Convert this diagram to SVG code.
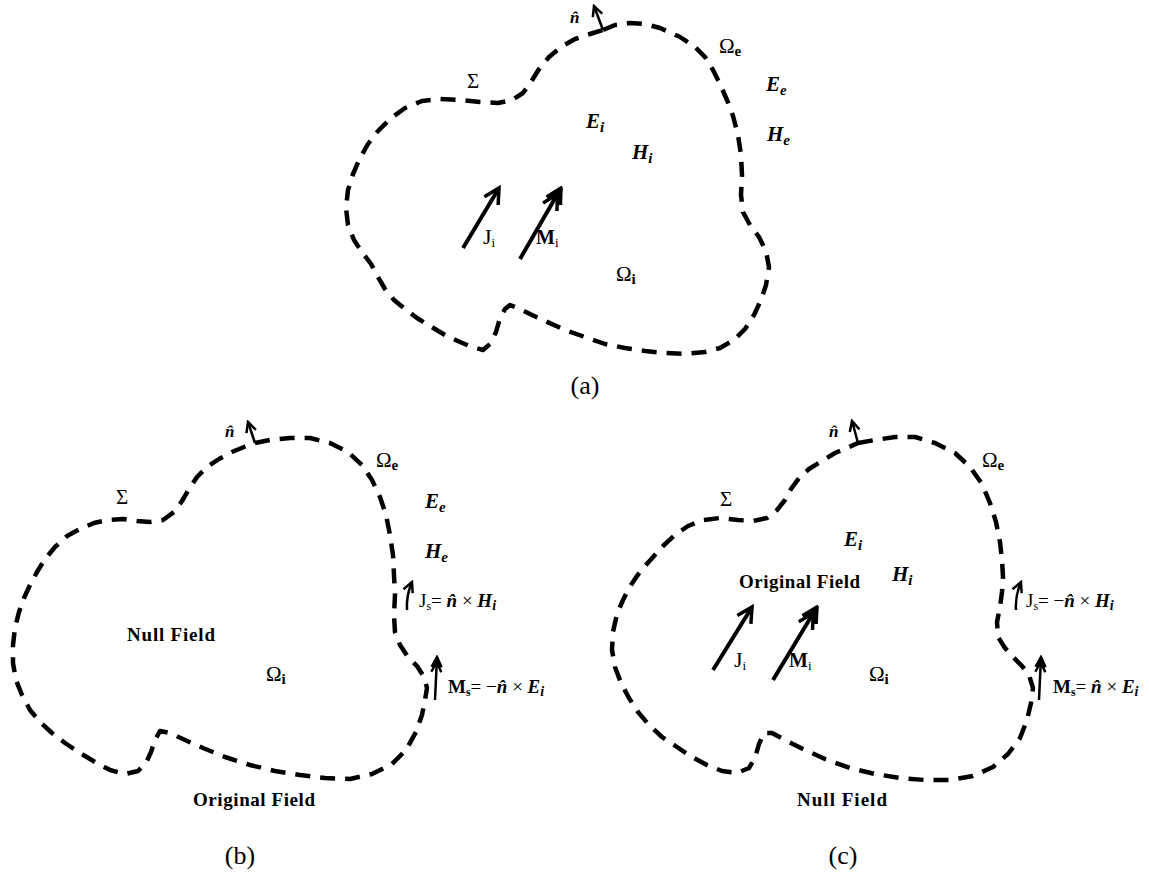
<svg xmlns="http://www.w3.org/2000/svg" width="1149" height="873" viewBox="0 0 1149 873">
<style>
.b{fill:none;stroke:#000;stroke-width:4.5;stroke-dasharray:15 10;stroke-linejoin:round}
.ar{fill:none;stroke:#000;stroke-width:4}
.tn{fill:none;stroke:#000;stroke-width:2.5}
text{font-family:"Liberation Serif","DejaVu Serif",serif;fill:#000}
.bi{font-weight:bold;font-style:italic}
.bd{font-weight:bold}
</style>
<defs>
<marker id="ah" markerUnits="userSpaceOnUse" viewBox="0 0 22 22" refX="19" refY="11" markerWidth="22" markerHeight="22" orient="auto"><path d="M4,3 L19,11 L4,19" fill="none" stroke="#000" stroke-width="3.5"/></marker>
<marker id="ah2" markerUnits="userSpaceOnUse" viewBox="0 0 28 22" refX="26" refY="11" markerWidth="28" markerHeight="22" orient="auto"><path d="M4,3 L19,11 L4,19 M11,3 L26,11 L11,19" fill="none" stroke="#000" stroke-width="3.5"/></marker>
<marker id="th" markerUnits="userSpaceOnUse" viewBox="0 0 14 14" refX="12" refY="7" markerWidth="14" markerHeight="14" orient="auto"><path d="M2,2 L12,7 L2,12" fill="none" stroke="#000" stroke-width="2.5"/></marker>
<marker id="th2" markerUnits="userSpaceOnUse" viewBox="0 0 19 14" refX="17" refY="7" markerWidth="19" markerHeight="14" orient="auto"><path d="M2,2 L12,7 L2,12 M7,2 L17,7 L7,12" fill="none" stroke="#000" stroke-width="2.5"/></marker>
</defs>

<g id="boundaries">
<polyline id="boundary-a" class="b" points="603,30 615,25 630,23 645,24 660,28 680,37 695,47 705,57 713,70 720,84 727,100 733,116 738,135 741,155 742,175 741,195 743,212 750,225 759,237 766,251 769,267 766,285 761,300 754,315 745,329 734,340 720,348 705,352 685,354 665,353 645,351 625,348 605,344 585,337 565,330 545,321 530,314 518,308 510,305 505,309 500,318 496,332 490,344 483,350 472,347 460,342 445,335 430,326 417,318 405,309 394,300 385,289 378,277 371,264 362,252 354,240 348,225 346,208 348,190 353,174 360,158 368,144 378,131 390,119 405,108 422,101 440,99 460,100 480,102 498,103 512,100 523,93 531,82 539,69 549,57 561,47 575,39 590,34 603,30"/>
<polyline id="boundary-b" class="b" points="255,443 270,440 290,438 310,438 330,443 348,452 362,465 372,480 380,497 386,515 390,535 393,555 394,575 395,595 394,615 395,632 400,645 408,657 417,666 424,677 427,688 425,700 422,715 416,732 406,750 392,764 372,774 350,779 325,778 300,775 275,771 250,765 225,757 203,748 185,740 170,733 160,731 155,740 151,752 146,763 138,771 125,774 110,770 95,762 80,753 65,743 52,733 40,722 30,710 22,695 16,680 13,663 13,645 15,628 19,612 24,598 30,585 37,572 45,559 55,547 67,536 80,529 94,523 108,520 123,519 137,521 150,522 163,520 174,512 182,501 189,489 197,477 207,467 219,459 232,452 244,447 255,443"/>
<polyline id="boundary-c" class="b" points="858,443 875,440 895,437 915,437 935,443 955,453 970,467 982,484 990,503 996,522 1000,542 1002,560 1003,577 1002,592 1000,607 997,622 998,637 1005,648 1013,657 1022,666 1029,675 1033,688 1031,703 1027,720 1020,738 1008,754 993,767 973,776 950,780 925,780 900,778 875,774 850,768 825,759 803,749 785,740 772,733 764,733 759,744 755,758 749,768 737,773 722,771 707,765 692,757 677,747 662,737 649,725 638,712 629,698 621,683 615,667 612,650 613,632 617,614 623,600 629,588 637,576 645,566 654,556 664,545 675,535 688,526 703,520 720,518 738,520 753,521 767,518 777,510 785,500 791,489 799,478 809,469 822,461 835,453 847,448 858,443"/>
</g>

<g id="connectors">
<line class="tn" x1="603" y1="30" x2="594" y2="6" marker-end="url(#th)"/>
<line class="tn" x1="255" y1="443" x2="248" y2="422" marker-end="url(#th)"/>
<line class="tn" x1="858" y1="443" x2="852" y2="421" marker-end="url(#th)"/>
<line class="ar" x1="463" y1="248" x2="499" y2="188" marker-end="url(#ah)"/>
<line class="ar" x1="520" y1="259" x2="561" y2="188" marker-end="url(#ah2)"/>
<line class="ar" x1="713" y1="670" x2="752" y2="607" marker-end="url(#ah)"/>
<line class="ar" x1="773" y1="680" x2="817" y2="607" marker-end="url(#ah2)"/>
<path class="tn" d="M407,610 Q406,596 412,582" marker-end="url(#th)"/>
<line class="tn" x1="435" y1="700" x2="437" y2="657" marker-end="url(#th2)"/>
<path class="tn" d="M1016,610 Q1015,596 1021,582" marker-end="url(#th)"/>
<line class="tn" x1="1039" y1="700" x2="1041" y2="657" marker-end="url(#th2)"/>
</g>

<g id="labels-a">
<text x="570" y="23" class="bi" font-size="17">n̂</text>
<text x="467" y="88" font-size="21">Σ</text>
<text x="719" y="53" font-size="21">Ω<tspan class="bd" font-size="15" dy="3">e</tspan></text>
<text x="766" y="91" class="bi" font-size="21">E<tspan font-size="15" dy="4">e</tspan></text>
<text x="767" y="141" class="bi" font-size="21">H<tspan font-size="15" dy="4">e</tspan></text>
<text x="586" y="128" class="bi" font-size="21">E<tspan font-size="15" dy="4">i</tspan></text>
<text x="632" y="159" class="bi" font-size="21">H<tspan font-size="15" dy="4">i</tspan></text>
<text x="483" y="244" font-size="22">J<tspan font-size="13" dy="3">i</tspan></text>
<text x="536" y="244" class="bd" font-size="20">M<tspan font-size="13" font-weight="normal" dy="3">i</tspan></text>
<text x="616" y="281" font-size="21">Ω<tspan class="bd" font-size="15" dy="3">i</tspan></text>
<text x="585" y="394" font-size="26" text-anchor="middle">(a)</text>
</g>

<g id="labels-b">
<text x="225" y="437" class="bi" font-size="17">n̂</text>
<text x="116" y="504" font-size="21">Σ</text>
<text x="376" y="467" font-size="21">Ω<tspan class="bd" font-size="15" dy="3">e</tspan></text>
<text x="425" y="508" class="bi" font-size="21">E<tspan font-size="15" dy="4">e</tspan></text>
<text x="425" y="558" class="bi" font-size="21">H<tspan font-size="15" dy="4">e</tspan></text>
<text x="419" y="607" font-size="19">J<tspan font-size="12" dy="3">s</tspan><tspan dy="-3">= </tspan><tspan class="bi">n̂</tspan> × <tspan class="bi">H<tspan font-size="14" dy="3">i</tspan></tspan></text>
<text x="127" y="641" class="bd" font-size="19" textLength="88" lengthAdjust="spacing">Null Field</text>
<text x="266" y="681" font-size="21">Ω<tspan class="bd" font-size="15" dy="3">i</tspan></text>
<text x="448" y="693" class="bd" font-size="19">M<tspan font-size="12" dy="3">s</tspan><tspan font-weight="normal" dy="-3">= −</tspan><tspan class="bi">n̂</tspan><tspan font-weight="normal"> × </tspan><tspan class="bi">E<tspan font-size="14" dy="3">i</tspan></tspan></text>
<text x="193" y="806" class="bd" font-size="19" textLength="122" lengthAdjust="spacing">Original Field</text>
<text x="240" y="864" font-size="26" text-anchor="middle">(b)</text>
</g>

<g id="labels-c">
<text x="829" y="437" class="bi" font-size="17">n̂</text>
<text x="720" y="506" font-size="21">Σ</text>
<text x="982" y="467" font-size="21">Ω<tspan class="bd" font-size="15" dy="3">e</tspan></text>
<text x="844" y="546" class="bi" font-size="21">E<tspan font-size="15" dy="4">i</tspan></text>
<text x="892" y="581" class="bi" font-size="21">H<tspan font-size="15" dy="4">i</tspan></text>
<text x="739" y="588" class="bd" font-size="19" textLength="121" lengthAdjust="spacing">Original Field</text>
<text x="734" y="667" font-size="22">J<tspan font-size="13" dy="3">i</tspan></text>
<text x="789" y="667" class="bd" font-size="20">M<tspan font-size="13" font-weight="normal" dy="3">i</tspan></text>
<text x="869" y="681" font-size="21">Ω<tspan class="bd" font-size="15" dy="3">i</tspan></text>
<text x="1026" y="607" font-size="19">J<tspan font-size="12" dy="3">s</tspan><tspan dy="-3">= −</tspan><tspan class="bi">n̂</tspan> × <tspan class="bi">H<tspan font-size="14" dy="3">i</tspan></tspan></text>
<text x="1053" y="693" class="bd" font-size="19">M<tspan font-size="12" dy="3">s</tspan><tspan font-weight="normal" dy="-3">= </tspan><tspan class="bi">n̂</tspan><tspan font-weight="normal"> × </tspan><tspan class="bi">E<tspan font-size="14" dy="3">i</tspan></tspan></text>
<text x="842" y="806" class="bd" font-size="19" text-anchor="middle" textLength="90" lengthAdjust="spacing">Null Field</text>
<text x="843" y="864" font-size="26" text-anchor="middle">(c)</text>
</g>
</svg>
